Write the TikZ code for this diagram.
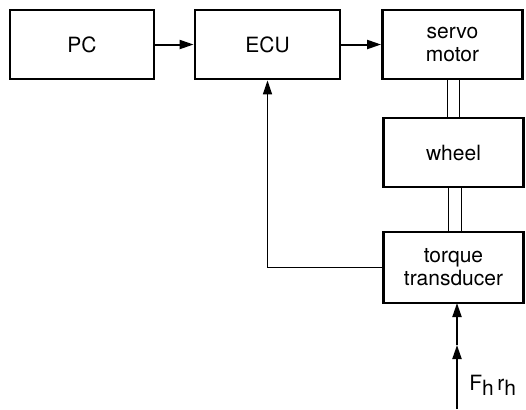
\documentclass[tikz,border=0pt]{standalone}
\usepackage{fontspec}
\setmainfont{TeX Gyre Heros}
\usetikzlibrary{arrows.meta}
\tikzset{
  blk/.style={draw, line width=1.4pt, minimum width=70pt, minimum height=34.5pt,
    inner sep=0pt, align=center, font=\fontsize{10.5}{11.5}\selectfont},
  sig/.style={line width=1pt, -{Triangle[length=7pt,width=4.5pt]}},
  shaft/.style={line width=0.9pt}
}
\begin{document}
\begin{tikzpicture}[x=0.5pt,y=-0.5pt]
        \useasboundingbox (0,0) rectangle (526,409);
        % blocks
        \node[blk, minimum width=72pt] (pc) at (82,44.5) {PC};
        \node[blk, minimum width=72.5pt] (ecu) at (267.5,44.5) {ECU};
        \node[blk] (servo) at (452.5,44.5) {servo\\motor};
        \node[blk] (wheel) at (453.5,152.5) {wheel};
        \node[blk, minimum height=35.5pt] (torque) at (453.5,267.5) {torque\\transducer};
        % signals
        \draw[sig] (pc) -- (ecu);
        \draw[sig] (ecu) -- (servo);
        \draw[sig, line width=0.8pt] (torque.west) -| (ecu.south);
        % shafts
        \draw[shaft] ([xshift=-2.5pt]servo.south) -- ([xshift=-3pt]wheel.north);
        \draw[shaft] ([xshift=3.5pt]servo.south) -- ([xshift=3pt]wheel.north);
        \draw[shaft] ([xshift=-2.5pt]wheel.south) -- ([xshift=-2.5pt]torque.north);
        \draw[shaft] ([xshift=4pt]wheel.south) -- ([xshift=4pt]torque.north);
        % hand input
        \coordinate (hand) at (457,409);
        \coordinate (mid) at (457,345);
        \draw[sig] (hand) -- (mid);
        \draw[sig] (mid) -- (457,303);
        \node[font=\fontsize{10.5}{12}\selectfont, anchor=west, inner sep=0pt] (force) at (469,385) {F\raisebox{-2.5pt}{h}\,r\raisebox{-2.5pt}{h}};
    \end{tikzpicture}
\end{document}
